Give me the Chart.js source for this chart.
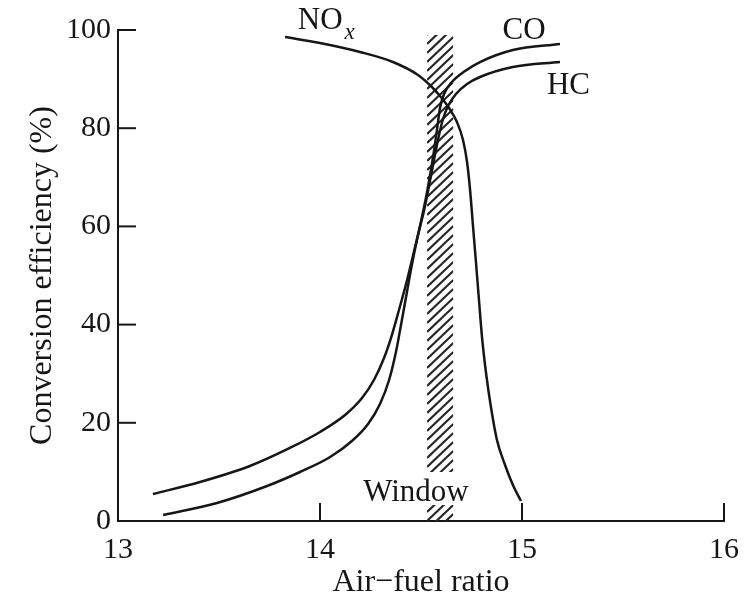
<!DOCTYPE html>
<html>
<head>
<meta charset="utf-8">
<script src="https://cdn.jsdelivr.net/npm/chart.js@4.4.1/dist/chart.umd.min.js"></script>
<style>
  body { margin: 0; background: #fff; }
  canvas { display: block; }
</style>
</head>
<body>
<canvas id="chart" width="751" height="602"></canvas>
<script>
// values (air-fuel ratio vs conversion efficiency %)
const coX = [13.173, 13.406, 13.653, 13.851, 14.000, 14.124, 14.208, 14.267, 14.317, 14.356, 14.391, 14.426, 14.460, 14.495, 14.530, 14.559, 14.579, 14.594, 14.614, 14.653, 14.718, 14.792, 14.955, 15.188];
const coY = [5.5, 7.94, 11.2, 14.87, 18.13, 21.59, 25.05, 28.72, 33.2, 37.88, 42.97, 48.27, 53.97, 60.08, 67.01, 73.93, 79.63, 84.11, 86.97, 89.41, 91.65, 93.48, 95.93, 97.15];

const hcX = [13.223, 13.490, 13.738, 13.901, 14.050, 14.158, 14.238, 14.297, 14.342, 14.376, 14.401, 14.426, 14.450, 14.480, 14.520, 14.554, 14.584, 14.609, 14.634, 14.673, 14.728, 14.792, 14.955, 15.188];
const hcY = [1.22, 3.67, 7.13, 9.98, 13.03, 16.29, 19.76, 23.83, 28.72, 34.42, 39.92, 45.62, 51.12, 57.23, 64.15, 71.28, 77.6, 81.87, 84.52, 86.97, 89.0, 90.43, 92.46, 93.48];

const noxX = [13.827, 14.000, 14.198, 14.361, 14.485, 14.554, 14.594, 14.639, 14.678, 14.708, 14.728, 14.743, 14.757, 14.772, 14.787, 14.802, 14.822, 14.847, 14.876, 14.916, 14.955, 14.995];
const noxY = [98.57, 97.35, 95.52, 93.48, 90.84, 88.39, 86.56, 84.11, 81.26, 77.6, 73.12, 67.41, 60.29, 52.75, 45.01, 37.47, 30.14, 23.01, 16.5, 11.41, 7.33, 4.07];

const windowRange = [14.53, 14.66];
const windowTop = 99;

const xTicks = [13, 14, 15, 16];
const yTicks = [0, 20, 40, 60, 80, 100];

const ink = '#161616';
const serif = 'Liberation Serif';

function pts(xs, ys) {
    return xs.map((x, i) => ({ x: x, y: ys[i] }));
}

function curve(label, xs, ys) {
    return {
        label: label,
        data: pts(xs, ys),
        showLine: true,
        borderColor: ink,
        borderWidth: 2.5,
        pointRadius: 0,
        cubicInterpolationMode: 'monotone',
        fill: false
    };
}

// hatched window band, inward tick marks and curve labels
const extras = {
    id: 'extras',
    beforeDatasetsDraw(chart) {
        const { ctx, scales: { x, y } } = chart;
        const x0 = x.getPixelForValue(windowRange[0]);
        const x1 = x.getPixelForValue(windowRange[1]);
        const yt = y.getPixelForValue(windowTop);
        const yb = y.getPixelForValue(0);
        const w = x1 - x0;
        ctx.save();
        ctx.beginPath();
        ctx.rect(x0, yt, w, yb - yt);
        ctx.clip();
        ctx.strokeStyle = '#262626';
        ctx.lineWidth = 2.2;
        for (let yy = yt; yy < yb + w; yy += 9) {
            ctx.beginPath();
            ctx.moveTo(x0, yy);
            ctx.lineTo(x1, yy - w * 0.95);
            ctx.stroke();
        }
        ctx.restore();
    },
    afterDraw(chart) {
        const { ctx, scales: { x, y } } = chart;
        const left = x.getPixelForValue(13);
        const bottom = y.getPixelForValue(0);
        ctx.save();
        ctx.strokeStyle = ink;
        ctx.lineWidth = 2;
        for (const v of yTicks.slice(1)) {
            const py = y.getPixelForValue(v);
            ctx.beginPath(); ctx.moveTo(left, py); ctx.lineTo(left + 18, py); ctx.stroke();
        }
        for (const v of xTicks.slice(1)) {
            const px = x.getPixelForValue(v);
            ctx.beginPath(); ctx.moveTo(px, bottom); ctx.lineTo(px, bottom - 18); ctx.stroke();
        }

        ctx.fillStyle = ink;
        ctx.textBaseline = 'middle';
        ctx.font = '31px "' + serif + '"';

        // Window label, gap in the hatch behind it
        const wx = x.getPixelForValue(14.475);
        const wy = y.getPixelForValue(5.7);
        const bx0 = x.getPixelForValue(windowRange[0]);
        const bx1 = x.getPixelForValue(windowRange[1]);
        ctx.fillStyle = '#fff';
        ctx.fillRect(bx0 - 2, wy - 21, bx1 - bx0 + 4, 33);
        ctx.fillStyle = ink;
        ctx.textAlign = 'center';
        ctx.fillText('Window', wx, wy);

        ctx.fillText('CO', x.getPixelForValue(15.01), y.getPixelForValue(99.8));
        ctx.fillText('HC', x.getPixelForValue(15.23), y.getPixelForValue(88.6));

        ctx.textAlign = 'left';
        const nx = x.getPixelForValue(13.89);
        const ny = y.getPixelForValue(101.8);
        ctx.fillText('NO', nx, ny);
        const nw = ctx.measureText('NO').width;
        ctx.font = 'italic 23px "' + serif + '"';
        ctx.fillText('x', nx + nw + 2, ny + 12);
        ctx.restore();
    }
};

const tickFont = { family: serif, size: 30 };
const titleFont = { family: serif, size: 32 };

new Chart(document.getElementById('chart'), {
    type: 'scatter',
    data: {
        datasets: [
            curve('CO', coX, coY),
            curve('HC', hcX, hcY),
            curve('NOx', noxX, noxY)
        ]
    },
    options: {
        responsive: false,
        animation: false,
        layout: { padding: { left: 0, right: 27, top: 30, bottom: 0 } },
        plugins: { legend: { display: false }, tooltip: { enabled: false } },
        scales: {
            x: {
                type: 'linear',
                min: 13,
                max: 16,
                afterBuildTicks(s) { s.ticks = xTicks.map(v => ({ value: v })); },
                ticks: { font: tickFont, color: ink, padding: 11, maxRotation: 0 },
                grid: { display: false, drawTicks: false },
                border: { display: true, color: ink, width: 2 },
                title: { display: true, text: 'Air−fuel ratio', font: titleFont, color: ink, padding: { top: 0, bottom: 0 } },
                afterFit(s) { s.height = 81; }
            },
            y: {
                min: 0,
                max: 100,
                afterBuildTicks(s) { s.ticks = yTicks.map(v => ({ value: v })); },
                ticks: { font: tickFont, color: ink, padding: 7 },
                grid: { display: false, drawTicks: false },
                border: { display: true, color: ink, width: 2 },
                title: { display: true, text: 'Conversion efficiency (%)', font: titleFont, color: ink, padding: { top: 23, bottom: 0 } },
                afterFit(s) { s.width = 118; }
            }
        }
    },
    plugins: [extras]
});
</script>
</body>
</html>
